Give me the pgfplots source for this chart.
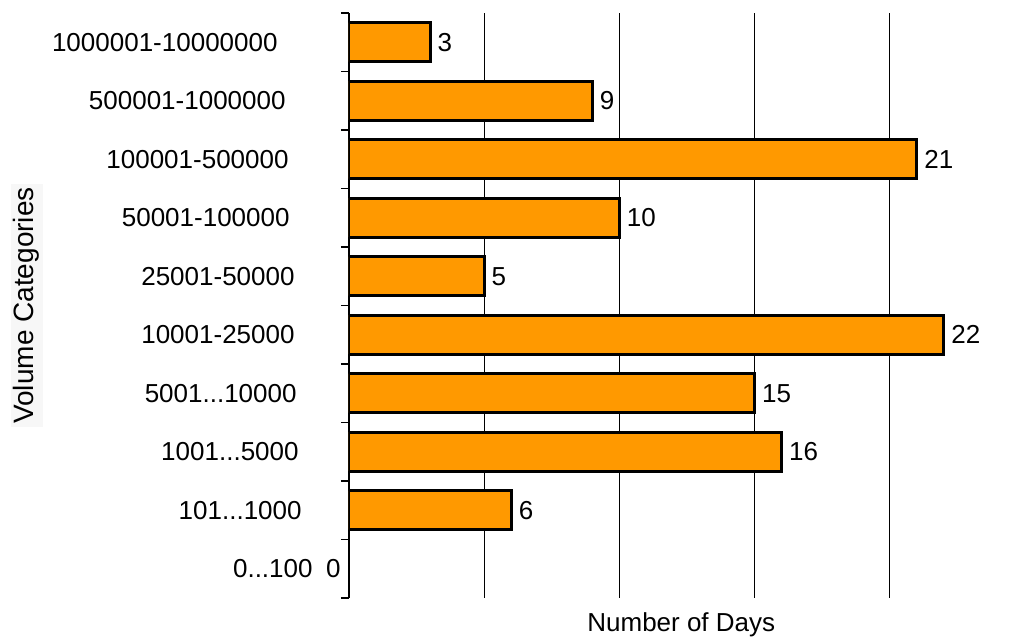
\documentclass[border=0pt]{standalone}
\usepackage{fontspec}
\setmainfont{Liberation Sans}
\usepackage{pgfplots}
\pgfplotsset{compat=1.18}
\definecolor{barorange}{HTML}{FF9900}
\definecolor{labelbg}{HTML}{F7F7F7}
\newcommand{\dd}{...}
\begin{document}
\begin{tikzpicture}
\begin{axis}[
    name=ax,
    xbar, bar shift=0pt, bar width=19.5pt,
    scale only axis, width=324.5pt, height=292.5pt,
    xmin=0, xmax=24, ymin=-0.5, ymax=9.5,
    axis lines*=left,
    x axis line style={draw=none},
    y axis line style={line width=0.6pt},
    xtick={5,10,15,20}, xticklabels={},
    xmajorgrids, major grid style={black, line width=0.5pt},
    major tick length=0pt,
    ytick={0,...,9},
    yticklabels={{0\dd100},
        {101\dd1000\hspace*{5.5pt}},
        {1001\dd5000\hspace*{7pt}},
        {5001\dd10000\hspace*{8pt}},
        {10001-25000\hspace*{9pt}},
        {25001-50000\hspace*{9pt}},
        {50001-100000\hspace*{11.5pt}},
        {100001-500000\hspace*{12pt}},
        {500001-1000000\hspace*{13.5pt}},
        {1000001-10000000\hspace*{17.5pt}}},
    minor ytick={-0.5,0.5,...,9.5},
    minor tick length=4pt, tick align=outside,
    minor y tick style={black, line width=0.6pt},
    yticklabel style={anchor=east, inner sep=0pt, xshift=-18pt, font=\fontsize{13}{15}\selectfont},
    xlabel={Number of Days},
    xlabel style={at={(axis description cs:0.512,0)}, anchor=north, inner sep=0pt, yshift=-7pt, font=\fontsize{13}{15}\selectfont},
    ylabel={Volume Categories},
    ylabel style={at={(axis description cs:-0.522,0.5)}, anchor=north, fill=labelbg, inner sep=1.5pt, font=\fontsize{14}{16}\selectfont},
    /pgf/number format/assume math mode=true,
    nodes near coords,
    nodes near coords style={font=\fontsize{13}{15}\selectfont, inner sep=0pt, anchor=west, xshift=3pt},
]
\addplot[fill=barorange, draw=black, line width=1.5pt] coordinates {
    (6,1) (16,2) (15,3) (22,4) (5,5) (10,6) (21,7) (9,8) (3,9)};
% zero bar: only its label, left of the axis
\addplot[draw=none, fill=none, nodes near coords style={anchor=east, xshift=-7pt}] coordinates {(0,0)};
\end{axis}
\pgfresetboundingbox
\path ([shift={(-174.5pt,-21pt)}]ax.south west) rectangle ([shift={(333pt,299pt)}]ax.south west);
\end{tikzpicture}
\end{document}
